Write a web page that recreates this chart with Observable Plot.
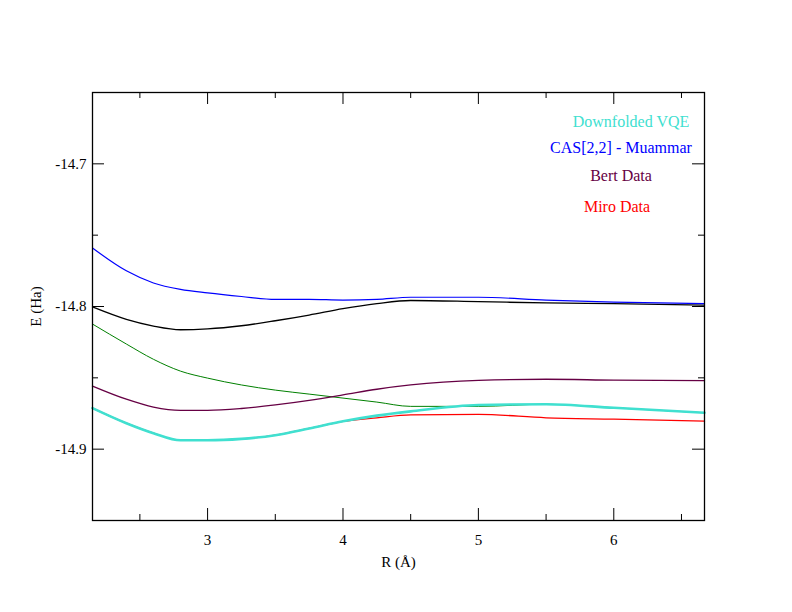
<!DOCTYPE html>
<html><head><meta charset="utf-8">
<script src="https://cdn.jsdelivr.net/npm/d3@7"></script>
<script src="https://cdn.jsdelivr.net/npm/@observablehq/plot@0.6"></script>
<style>
body{margin:0;background:#fff}
#wrap{position:relative;width:792px;height:612px}
#chart svg, #chart svg text{font-family:"Liberation Serif",serif !important;font-size:15px}
.lg{position:absolute;font-family:"Liberation Serif",serif;font-size:16px;transform:translateX(-50%);white-space:nowrap}
</style></head>
<body><div id="wrap"><div id="chart"></div></div>
<script>
const R = [2.15, 2.4, 2.6, 2.8, 3.0, 3.25, 3.5, 3.75, 4.0, 4.25, 4.5, 5.0, 5.5, 6.0, 6.67]
const casMuammar = [-14.759, -14.775, -14.7835, -14.788, -14.7905, -14.793, -14.795, -14.795, -14.7955, -14.795, -14.7935, -14.7935, -14.7955, -14.797, -14.798]
const blackE = [-14.8003, -14.809, -14.8137, -14.8163, -14.8157, -14.8135, -14.810, -14.806, -14.8015, -14.798, -14.7958, -14.7966, -14.7975, -14.798, -14.799]
const greenE = [-14.8123, -14.8263, -14.837, -14.8453, -14.8502, -14.855, -14.8586, -14.8614, -14.8642, -14.867, -14.870, -14.870, -14.8685, -14.871, -14.8745]
const bertE = [-14.8558, -14.865, -14.8705, -14.8728, -14.8728, -14.8715, -14.869, -14.8658, -14.862, -14.858, -14.855, -14.8518, -14.851, -14.8516, -14.852]
const vqeE = [-14.8712, -14.8818, -14.8888, -14.8938, -14.8938, -14.8928, -14.8902, -14.8855, -14.8805, -14.8765, -14.8735, -14.869, -14.8685, -14.871, -14.8745]
const miroE = [-14.8712, -14.8818, -14.8888, -14.8938, -14.8938, -14.8928, -14.8902, -14.8855, -14.8805, -14.878, -14.876, -14.8756, -14.878, -14.879, -14.8804]
const xMajor = [3, 4, 5, 6]
const xMinor = [2.5, 3.5, 4.5, 5.5, 6.5]
const yMajor = [-14.9, -14.8, -14.7]
const yMinor = [-14.95, -14.85, -14.75, -14.65]
const legend = [
  {name: 'Downfolded VQE', color: '#40e0d0', left: 631, top: 113},
  {name: 'CAS[2,2] - Muammar', color: '#0000ff', left: 621, top: 139},
  {name: 'Bert Data', color: '#660044', left: 621, top: 167},
  {name: 'Miro Data', color: '#ff0000', left: 617, top: 198}
]

const xd = [2.15, 6.67], yd = [-14.95, -14.65]
const pxX = (xd[1] - xd[0]) / 612, pxY = (yd[1] - yd[0]) / 428
const series = (ys) => R.map((r, i) => ({r, e: ys[i]}))
const line = (ys, stroke, w) => Plot.line(series(ys), {x: 'r', y: 'e', stroke, strokeWidth: w, curve: 'monotone-x'})

const ticks = []
for (const [list, len] of [[xMajor, 12], [xMinor, 6]]) {
  ticks.push(Plot.ruleX(list, {x: d => d, y1: yd[0], y2: yd[0] + len * pxY, stroke: 'black'}))
  ticks.push(Plot.ruleX(list, {x: d => d, y1: yd[1], y2: yd[1] - len * pxY, stroke: 'black'}))
}
for (const [list, len] of [[yMajor, 12], [yMinor, 6]]) {
  ticks.push(Plot.ruleY(list, {y: d => d, x1: xd[0], x2: xd[0] + len * pxX, stroke: 'black'}))
  ticks.push(Plot.ruleY(list, {y: d => d, x1: xd[1], x2: xd[1] - len * pxX, stroke: 'black'}))
}

const chart = Plot.plot({
  width: 792, height: 612,
  marginLeft: 92, marginRight: 88, marginTop: 92, marginBottom: 92,
  style: {fontFamily: 'Liberation Serif, serif', fontSize: '15px', color: 'black'},
  x: {domain: xd},
  y: {domain: yd},
  marks: [
    Plot.axisX(xMajor, {tickSize: 0, tickPadding: 14, tickFormat: d => String(d), label: 'R (Å)', labelAnchor: 'center', labelArrow: 'none', labelOffset: 46, fill: 'black'}),
    Plot.axisY(yMajor, {tickSize: 0, tickPadding: 6, tickFormat: d => d.toFixed(1), label: 'E (Ha)', labelAnchor: 'center', labelArrow: 'none', labelOffset: 62, fill: 'black'}),
    line(greenE, '#008000', 1),
    line(miroE, '#ff0000', 1.3),
    line(bertE, '#660044', 1.3),
    line(blackE, 'black', 1.3),
    line(casMuammar, '#0000ff', 1.2),
    line(vqeE, '#40e0d0', 2.6),
    ...ticks,
    Plot.frame({stroke: 'black', strokeWidth: 1.3})
  ]
})
d3.select('#chart').append(() => chart)
const wrap = d3.select('#wrap')
legend.forEach(l => wrap.append('div').attr('class', 'lg').style('color', l.color)
  .style('left', l.left + 'px').style('top', l.top + 'px').text(l.name))
</script>
</body></html>
